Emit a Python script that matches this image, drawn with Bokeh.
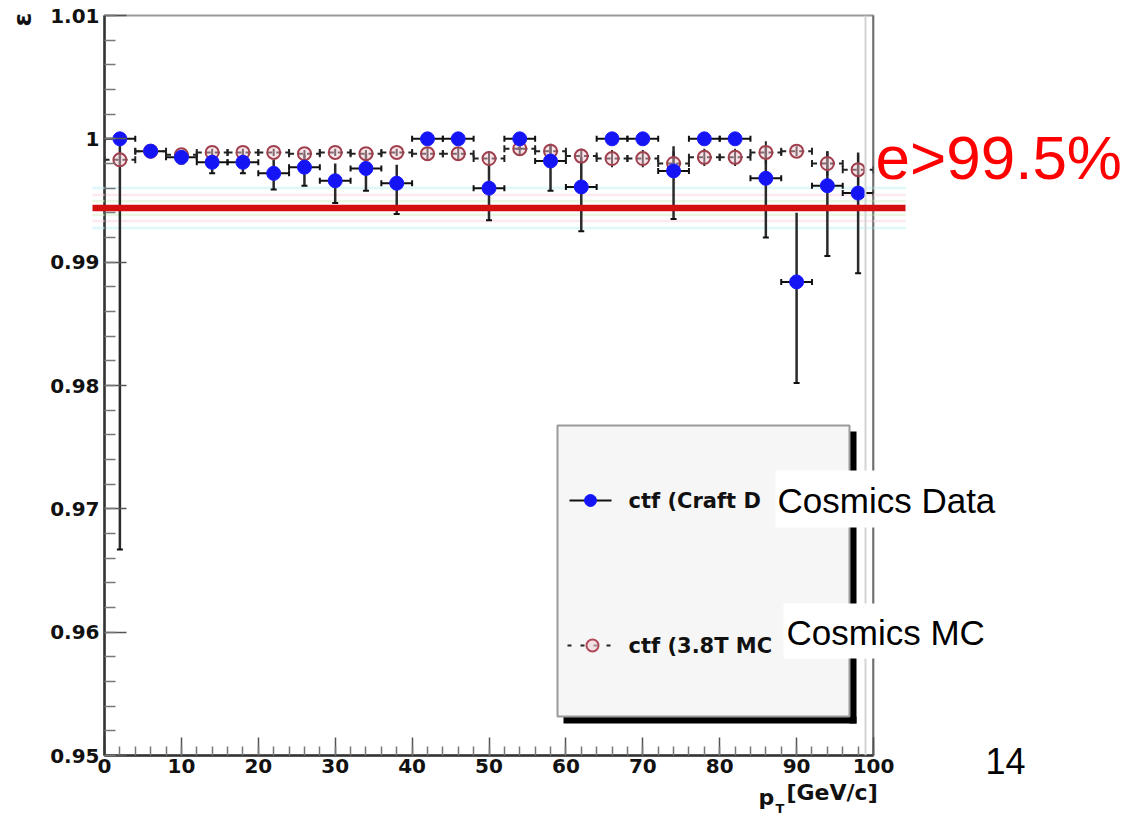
import math
from bokeh.plotting import figure
from bokeh.models import (Range1d, FixedTicker, CustomJSTickFormatter, Span, ColumnDataSource)
from bokeh.core.properties import value
from bokeh.embed import file_html
from bokeh.resources import INLINE

# ---------------- data ----------------
pt_centers = [2, 6, 10, 14, 18, 22, 26, 30, 34, 38, 42, 46, 50,
              54, 58, 62, 66, 70, 74, 78, 82, 86, 90, 94, 98]
bin_half_width = 2

data_eff = [1.0, 0.9990, 0.9985, 0.9981, 0.9981, 0.9972, 0.9977, 0.9966, 0.9976,
            0.9964, 1.0, 1.0, 0.9960, 1.0, 0.9982, 0.9961, 1.0, 1.0, 0.9974,
            1.0, 1.0, 0.9968, 0.9884, 0.9962, 0.9956]
data_err_lo = [0.0333, 0.0004, 0.0005, 0.0009, 0.0009, 0.0013, 0.0015, 0.0018, 0.0018,
               0.0025, 0.0003, 0.0003, 0.0026, 0.0008, 0.0024, 0.0036, 0.0004, 0.0004,
               0.0039, 0.0004, 0.0004, 0.0048, 0.0082, 0.0057, 0.0065]
data_err_hi = [0.0, 0.0003, 0.0004, 0.0007, 0.0007, 0.0011, 0.0010, 0.0014, 0.0012,
               0.0015, 0.0, 0.0, 0.0020, 0.0, 0.0012, 0.0024, 0.0, 0.0, 0.0020,
               0.0, 0.0, 0.0026, 0.0056, 0.0028, 0.0033]

mc_eff = [0.9983, 0.9990, 0.9987, 0.9989, 0.9989, 0.9989, 0.9988, 0.9989, 0.9988,
          0.9989, 0.9988, 0.9988, 0.9984, 0.9992, 0.9990, 0.9986, 0.9984, 0.9984,
          0.9980, 0.9985, 0.9985, 0.9989, 0.9990, 0.9980, 0.9975]
mc_err = [0.0003, 0.0002, 0.0002, 0.0003, 0.0003, 0.0003, 0.0003, 0.0003, 0.0003,
          0.0003, 0.0005, 0.0005, 0.0006, 0.0006, 0.0006, 0.0006, 0.0007, 0.0007,
          0.0010, 0.0007, 0.0007, 0.0009, 0.0004, 0.0010, 0.0012]

threshold = 0.9944
threshold_text = "e>99.5%"
legend_labels = ["ctf (Craft D", "ctf (3.8T MC"]
overlay_labels = ["Cosmics Data", "Cosmics MC"]
page_number = "14"
y_title = "\u03b5"

x_ticks = [0, 10, 20, 30, 40, 50, 60, 70, 80, 90, 100]
x_minor = [v for v in range(0, 101, 2)]
y_ticks = [0.95, 0.96, 0.97, 0.98, 0.99, 1.00, 1.01]
y_minor = [round(0.95 + 0.002 * i, 3) for i in range(31)]

# ---------------- layout helpers ----------------
W, H = 1136, 817
L, R, T, B = 104, 873, 15, 755
X0, X1 = 0.0, 100.0
Y0, Y1 = 0.95, 1.01


def dx(px):
    return X0 + (px - L) * (X1 - X0) / (R - L)


def dy(py):
    return Y1 - (py - T) * (Y1 - Y0) / (B - T)


p = figure(width=W, height=H, x_range=Range1d(X0, X1), y_range=Range1d(Y0, Y1),
           output_backend="svg", toolbar_location=None,
           min_border_left=L, min_border_right=W - R,
           min_border_top=T, min_border_bottom=H - B)
p.grid.visible = False
p.outline_line_color = "#9a9a9a"
p.outline_line_width = 2
p.background_fill_color = "white"
p.border_fill_color = "white"

# axes
for ax in (p.xaxis[0], p.yaxis[0]):
    ax.axis_line_color = "#333333"
    ax.axis_line_width = 2.5
    ax.major_tick_out = 0
    ax.minor_tick_out = 0
    ax.major_tick_line_color = "#555555"
    ax.minor_tick_line_color = "#777777"
    ax.major_tick_line_width = 1.5
    ax.minor_tick_line_width = 1.5
    ax.major_label_text_font = "DejaVu Sans"
    ax.major_label_text_font_style = "bold"
    ax.major_label_text_font_size = "20px"
    ax.major_label_text_color = "#111111"

p.xaxis.ticker = FixedTicker(ticks=x_ticks, minor_ticks=x_minor)
p.xaxis.major_tick_in = 18
p.xaxis.minor_tick_in = 9
p.xaxis.major_label_standoff = 3

p.yaxis.ticker = FixedTicker(ticks=y_ticks, minor_ticks=y_minor)
p.yaxis.formatter = CustomJSTickFormatter(
    code=r"return tick.toFixed(2).replace(/\.?0+$/, '');")
p.yaxis.major_tick_in = 22
p.yaxis.minor_tick_in = 11
p.yaxis.major_label_standoff = 5

p.add_layout(Span(location=dx(865), dimension="height", line_color="#d4d4d4", line_width=2))
p.add_layout(Span(location=X1, dimension="height", line_color="#444444", line_width=2))

# ---------------- series ----------------
n = len(pt_centers)
data_src = ColumnDataSource(dict(
    x=pt_centers, y=data_eff,
    xl=[c - bin_half_width for c in pt_centers], xr=[c + bin_half_width for c in pt_centers],
    ylo=[data_eff[i] - data_err_lo[i] for i in range(n)],
    yhi=[data_eff[i] + data_err_hi[i] for i in range(n)],
))
mc_src = ColumnDataSource(dict(
    x=pt_centers, y=mc_eff,
    xl=[c - bin_half_width for c in pt_centers], xr=[c + bin_half_width for c in pt_centers],
    ylo=[mc_eff[i] - mc_err[i] for i in range(n)],
    yhi=[mc_eff[i] + mc_err[i] for i in range(n)],
))

OV = "overlay"

# faint halo of the threshold line (under the markers)
for off, col in [(20, "#c8f4f6"), (13, "#f8dbe2"), (7, "#d9f2cf")]:
    for sgn in (-1, 1):
        p.segment(x0=[dx(92)], x1=[dx(905)], y0=[dy(207.5 + sgn * off)],
                  y1=[dy(207.5 + sgn * off)], line_color=col, line_width=2.5,
                  line_alpha=0.6, level="underlay")

# data error bars
p.segment(x0="xl", y0="y", x1="xr", y1="y", source=data_src, line_color="#111111", line_width=2)
p.segment(x0="x", y0="ylo", x1="x", y1="yhi", source=data_src, line_color="#2a2a2a", line_width=2.5)
p.scatter(x="xl", y="y", source=data_src, marker="dash", angle=math.pi / 2, size=6,
          line_color="#111111", line_width=2)
p.scatter(x="xr", y="y", source=data_src, marker="dash", angle=math.pi / 2, size=6,
          line_color="#111111", line_width=2)
p.scatter(x="x", y="ylo", source=data_src, marker="dash", size=6, line_color="#111111", line_width=2)

# MC error bars
p.segment(x0="xl", y0="y", x1="xr", y1="y", source=mc_src, line_color="#222222",
          line_width=2, line_dash="5 4")
p.scatter(x="xl", y="y", source=mc_src, marker="dash", angle=math.pi / 2, size=7,
          line_color="#222222", line_width=2)
p.scatter(x="xr", y="y", source=mc_src, marker="dash", angle=math.pi / 2, size=7,
          line_color="#222222", line_width=2)
p.segment(x0="x", y0="ylo", x1="x", y1="yhi", source=mc_src, line_color="#222222", line_width=2)
p.scatter(x="x", y="y", source=mc_src, marker="circle", size=13, line_color="#a0404e",
          line_width=2, fill_color="#f2c6cf", fill_alpha=0.45)

# data markers
p.scatter(x="x", y="y", source=data_src, marker="circle", size=14,
          line_color="#1a1aff", fill_color="#1414f5")

# ---------------- threshold line (slide overlay, reaches outside the frame) ----------------
for off, col in [(20, "#c8f4f6"), (13, "#f8dbe2"), (7, "#d9f2cf")]:
    for sgn in (-1, 1):
        for xa, xb in [(92, 104), (873, 905)]:
            p.segment(x0=[dx(xa)], x1=[dx(xb)], y0=[dy(207.5 + sgn * off)],
                      y1=[dy(207.5 + sgn * off)], line_color=col, line_width=2.5,
                      line_alpha=0.6, level=OV)
p.segment(x0=[dx(92)], x1=[dx(905)], y0=[threshold], y1=[threshold],
          line_color="#d40f0f", line_width=6.5, level=OV)

p.text(x=[X1], y=[dy(157)], text=[threshold_text], x_offset=2, text_color="#ff0000",
       text_font=value("Liberation Sans"), text_font_size="62px",
       text_baseline="middle", text_align="left", level=OV)

# ---------------- legend (manual, ROOT style) ----------------
p.quad(left=[dx(849), dx(563)], right=[dx(856), dx(856)], top=[dy(431), dy(716)],
       bottom=[dy(723), dy(723)], fill_color="#000000", line_alpha=0, level=OV)
p.quad(left=[dx(557)], right=[dx(849)], top=[dy(425)], bottom=[dy(716)],
       fill_color="#f6f6f6", line_color="#9a9a9a", line_width=2, level=OV)

p.segment(x0=[dx(569)], y0=[dy(500)], x1=[dx(611)], y1=[dy(500)], line_color="#111111",
          line_width=2, level=OV)
p.scatter(x=[dx(590)], y=[dy(500)], size=12, marker="circle", line_color="#1a1aff",
          fill_color="#1414f5", level=OV)
p.segment(x0=[dx(567)], y0=[dy(645)], x1=[dx(613)], y1=[dy(645)], line_color="#222222",
          line_width=2, line_dash="4 9", level=OV)
p.scatter(x=[dx(592)], y=[dy(645)], size=12, marker="circle", line_color="#b04a5a",
          line_width=2, fill_color="#f2d2da", fill_alpha=0.6, level=OV)

p.text(x=[dx(628), dx(628)], y=[dy(500), dy(645)], text=legend_labels,
       text_font=value("DejaVu Sans"), text_font_style="bold", text_font_size="21px",
       text_color="#111111", text_baseline="middle", text_align="left", level=OV)

# white overlay boxes with replacement text
p.quad(left=[dx(775), dx(783)], right=[dx(1012), dx(1002)], top=[dy(470), dy(603)],
       bottom=[dy(527), dy(658)], fill_color="white", line_alpha=0, level=OV)
p.text(x=[dx(777), dx(786)], y=[dy(499.5), dy(631.5)], text=overlay_labels,
       text_font=value("Liberation Sans"), text_font_size="35px", text_color="#000000",
       text_baseline="middle", text_align="left", level=OV)

# axis titles (anchored on the frame edge, pushed outside with pixel offsets)
p.text(x=[X0], y=[Y1], text=[y_title], x_offset=-82, y_offset=4, angle=math.pi / 2,
       text_font=value("DejaVu Sans"), text_font_style="bold", text_font_size="25px",
       text_align="center", text_baseline="middle", text_color="#111111", level=OV)
p.text(x=[dx(758)], y=[Y0], text=["p"], y_offset=42,
       text_font=value("DejaVu Sans"), text_font_style="bold", text_font_size="22px",
       text_align="left", text_baseline="middle", text_color="#111111", level=OV)
p.text(x=[dx(775)], y=[Y0], text=["T"], y_offset=53,
       text_font=value("DejaVu Sans"), text_font_style="bold", text_font_size="13px",
       text_align="left", text_baseline="middle", text_color="#111111", level=OV)
p.text(x=[dx(786)], y=[Y0], text=["[GeV/c]"], y_offset=37,
       text_font=value("DejaVu Sans"), text_font_style="bold", text_font_size="22px",
       text_align="left", text_baseline="middle", text_color="#111111", level=OV)

p.text(x=[X1], y=[Y0], text=[page_number], x_offset=132, y_offset=5,
       text_font=value("Liberation Sans"), text_font_size="36px", text_color="#000000",
       text_align="center", text_baseline="middle", level=OV)

open("out.html", "w").write(file_html(p, INLINE))
